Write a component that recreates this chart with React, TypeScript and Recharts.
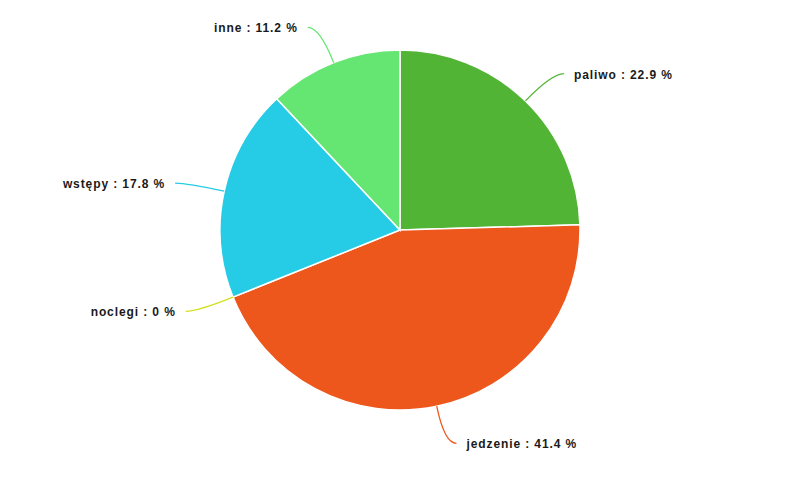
import { PieChart, Pie, Cell } from 'recharts';

const categories = ['paliwo', 'jedzenie', 'noclegi', 'wstępy', 'inne'];
const shares = [22.9, 41.4, 0, 17.8, 11.2];
const colors = ['#52b435', '#ee571c', '#d4df1e', '#26cce5', '#65e672'];

const data = categories.map((name, i) => ({ name, value: shares[i] }));

const RAD = Math.PI / 180;

const renderLabel = (props: any) => {
  const { cx, cy, midAngle, outerRadius, index } = props;
  const cos = Math.cos(-midAngle * RAD);
  const sin = Math.sin(-midAngle * RAD);
  const sx = cx + outerRadius * cos;
  const sy = cy + outerRadius * sin;
  const mx = cx + (outerRadius + 38) * cos;
  const my = cy + (outerRadius + 38) * sin;
  const dir = cos >= 0 ? 1 : -1;
  const ex = mx + dir * 12;
  const ey = my;
  const color = colors[index];
  return (
    <g>
      <path
        d={`M${sx},${sy}Q${mx},${my} ${ex},${ey}`}
        stroke={color}
        strokeWidth={1.3}
        fill='none'
      />
      <text
        x={ex + dir * 10}
        y={ey + 1}
        textAnchor={dir > 0 ? 'start' : 'end'}
        dominantBaseline='central'
        fill='#1a1a1a'
        fontFamily='"Liberation Sans", Arial, sans-serif'
        fontWeight='bold'
        fontSize={12}
        letterSpacing={0.9}
      >
        {`${categories[index]} : ${shares[index]} %`}
      </text>
    </g>
  );
};

const App = () => {
  return (
    <div style={{ width: 800, height: 482 }}>
      <style>{'body{margin:0}'}</style>
      <PieChart width={800} height={482} margin={{ top: 0, right: 0, bottom: 0, left: 0 }}>
        <Pie
          data={data}
          dataKey='value'
          nameKey='name'
          cx={400}
          cy={230}
          outerRadius={180}
          startAngle={90}
          endAngle={-270}
          stroke='#ffffff'
          strokeWidth={1.5}
          label={renderLabel}
          labelLine={false}
          isAnimationActive={false}
        >
          {data.map((d, i) => (
            <Cell key={d.name} fill={colors[i]} />
          ))}
        </Pie>
      </PieChart>
    </div>
  );
};

export default App;
